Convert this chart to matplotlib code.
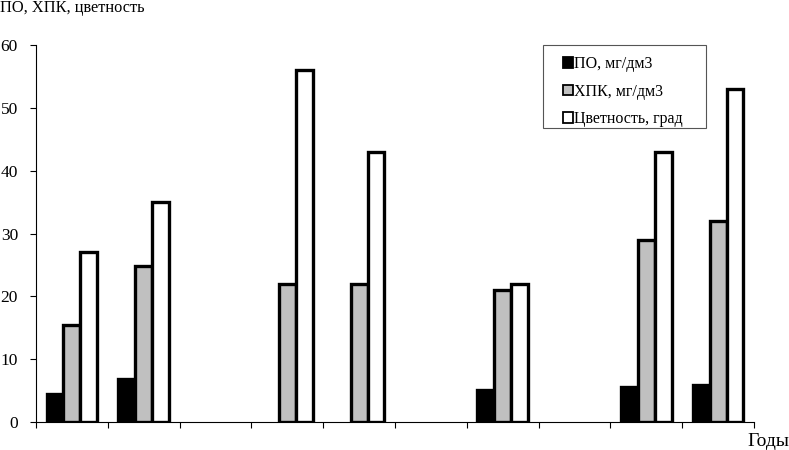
import numpy as np
import matplotlib.pyplot as plt
from matplotlib.patches import Rectangle

plt.rcParams['font.family'] = ['Liberation Serif', 'DejaVu Serif']

# Data (10 slots along the x axis, some empty)
slots = np.arange(10)
po = [4.5, 6.8, np.nan, np.nan, np.nan, np.nan, 5.1, np.nan, 5.6, 5.9]
hpk = [15.4, 24.8, np.nan, 22, 22, np.nan, 21, np.nan, 29, 32]
color_deg = [27, 35, np.nan, 56, 43, np.nan, 22, np.nan, 43, 53]

labels = ["ПО, мг/дм3", "ХПК, мг/дм3", "Цветность, град"]
fills = ["black", "#c0c0c0", "white"]

fig = plt.figure(figsize=(7.89, 4.5), dpi=100)
ax = fig.add_axes([36/789, 1-422/450, (754-36)/789, (422-45)/450])

w = 0.235
for i, (vals, lab, fc) in enumerate(zip([po, hpk, color_deg], labels, fills)):
    ax.bar(slots + (i-1)*w, vals, width=w, color=fc, edgecolor="black",
           linewidth=2.4, label=lab)

ax.set_xlim(-0.5, 9.5)
ax.set_ylim(0, 60)
ax.set_yticks(range(0, 61, 10))
ax.set_xticks(np.arange(-0.5, 10, 1))
ax.set_xticklabels([])
ax.tick_params(axis='y', labelsize=12.5, length=4, width=0.8, pad=9)
ax.tick_params(axis='x', length=4, width=0.8)
ax.spines['top'].set_visible(False)
ax.spines['right'].set_visible(False)

fig.text(0.0, 1-8/450, "ПО, ХПК, цветность", fontsize=11.8, va='center', ha='left')
fig.text(1.0, 1-441/450, "Годы", fontsize=14, va='center', ha='right')

# legend frame drawn separately (wider than its content, as in the original)
fig.patches.append(Rectangle((543/789, 1-128/450), 163/789, 83/450,
                             transform=fig.transFigure, fill=False,
                             edgecolor="#555555", linewidth=0.8))
leg = ax.legend(loc='upper left', bbox_to_anchor=(563/789, 1-56/450),
                bbox_transform=fig.transFigure, fontsize=11.5, frameon=False,
                handlelength=0.65, handleheight=0.65, handletextpad=0.05,
                labelspacing=0.72, borderpad=0, borderaxespad=0)
for h in leg.legend_handles:
    h.set_linewidth(1.3)

fig.savefig("out.png", dpi=100)
